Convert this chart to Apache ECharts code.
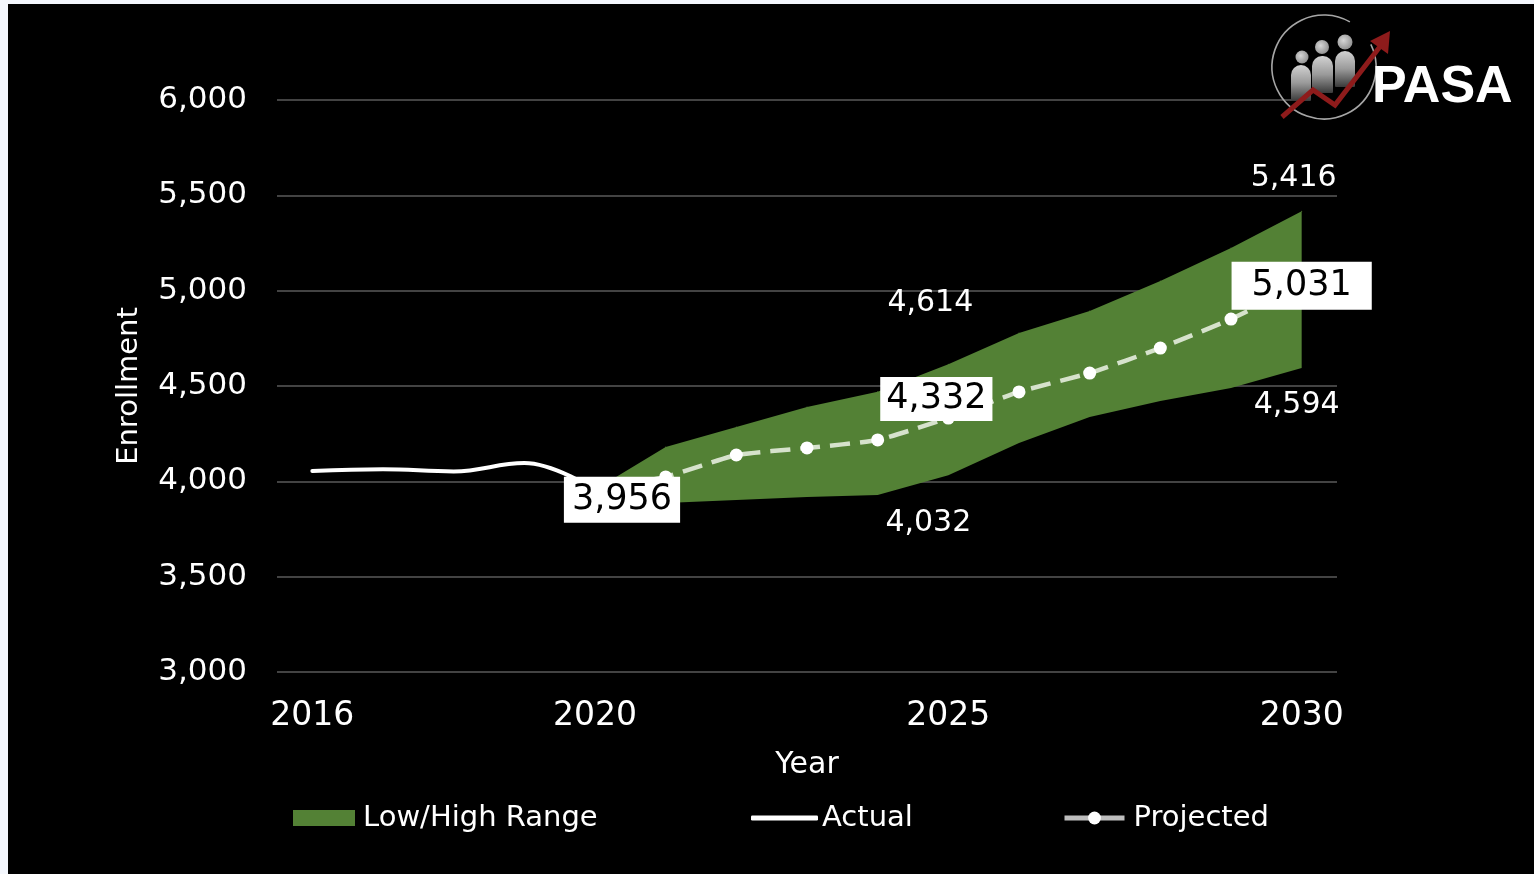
<!DOCTYPE html>
<html>
<head>
<meta charset="utf-8">
<title>Enrollment</title>
<script src="https://cdn.jsdelivr.net/npm/echarts@6/dist/echarts.min.js"></script>
<style>
  html, body { margin: 0; padding: 0; background: #f4f7fd; width: 1534px; height: 874px; overflow: hidden; }
  #chart { position: absolute; left: 8px; top: 4px; width: 1526px; height: 870px; background: #000; }
</style>
</head>
<body>
<div id="chart"></div>
<script>
// School years on the category axis
const years = ['2016','2017','2018','2019','2020','2021','2022','2023','2024','2025','2026','2027','2028','2029','2030'];
// Years that carry an axis label
const labeledYears = ['2016','2020','2025','2030'];
// Actual enrollment (2016-2020)
const actual = [4054, 4063, 4052, 4096, 3956, '-', '-', '-', '-', '-', '-', '-', '-', '-', '-'];
// Projected enrollment (2020-2030)
const projected = ['-', '-', '-', '-', 3956, 4023, 4138, 4175, 4217, 4332, 4469, 4568, 4699, 4851, 5031];
// Low and high projection bounds
const rangeLow  = ['-', '-', '-', '-', 3956, 3887, 3902, 3918, 3928, 4032, 4201, 4337, 4421, 4490, 4594];
const rangeHigh = ['-', '-', '-', '-', 3956, 4180, 4285, 4390, 4470, 4614, 4778, 4893, 5051, 5224, 5416];
// Y axis ticks
const yTicks = { min: 3000, max: 6000, step: 500 };

const FONT = 'DejaVu Sans';
const fmt = v => Number(v).toLocaleString('en-US');

// band thickness stacked over the low bound
const rangeSpan = rangeHigh.map((h, i) => (h === '-' ? '-' : h - rangeLow[i]));

// which points get value labels, and where the label sits relative to the point
const projLabels = { '2020': [27, 10, [4, 8]], '2025': [-12, -19, [3, 6]], '2030': [0, 1, [5, 20]] };
const lowLabels  = { '2025': [-20, 48], '2030': [-5, 37] };
const highLabels = { '2025': [-18, -61], '2030': [-8, -33] };

const projData = projected.map((v, i) => {
  const cfg = projLabels[years[i]];
  if (!cfg) return v;
  return {
    value: v,
    label: {
      show: true, position: 'inside', offset: [cfg[0], cfg[1]],
      formatter: p => fmt(p.value),
      color: '#000', backgroundColor: '#fff', padding: cfg[2],
      fontFamily: FONT, fontSize: 35, lineHeight: 38
    }
  };
});

const whiteLabel = (off, text) => ({
  show: true, position: 'inside', offset: off,
  formatter: () => text,
  color: '#fff', fontFamily: FONT, fontSize: 30
});

const lowData = rangeLow.map((v, i) => {
  const cfg = lowLabels[years[i]];
  return cfg ? { value: v, label: whiteLabel(cfg, fmt(v)) } : v;
});
const spanData = rangeSpan.map((v, i) => {
  const cfg = highLabels[years[i]];
  return cfg ? { value: v, label: whiteLabel(cfg, fmt(rangeHigh[i])) } : v;
});

const chart = echarts.init(document.getElementById('chart'), null, { renderer: 'canvas' });

// logo pieces (top right)
const figGrad = { type: 'linear', x: 0, y: 0, x2: 0, y2: 1,
  colorStops: [{ offset: 0, color: '#d2d2d2' }, { offset: 0.5, color: '#9a9a9a' }, { offset: 1, color: '#3a3a3a' }] };
const headGrad = { type: 'radial', x: 0.4, y: 0.4, r: 0.7,
  colorStops: [{ offset: 0, color: '#d6d6d6' }, { offset: 1, color: '#8a8a8a' }] };
const figures = [
  { hx: 1294, hy: 53, hr: 6.5, x: 1283, y: 61, w: 20, h: 36 },
  { hx: 1314, hy: 43, hr: 7, x: 1304, y: 52, w: 21, h: 37 },
  { hx: 1337, hy: 38, hr: 7.5, x: 1327, y: 47, w: 20, h: 36 }
];
const logo = [
  { type: 'rect', shape: { x: 1294, y: 93, width: 36, height: 6 }, style: { fill: '#000' }, z: 10 },
  { type: 'arc', shape: { cx: 1316, cy: 63, r: 52, startAngle: -0.45, endAngle: 2 * Math.PI - 1.05 },
    style: { stroke: '#a6a6a6', lineWidth: 1.6, fill: null }, z: 11 }
];
figures.forEach(f => {
  logo.push({ type: 'rect', shape: { x: f.x, y: f.y, width: f.w, height: f.h, r: [10, 10, 1, 1] },
    style: { fill: figGrad }, z: 12 });
  logo.push({ type: 'circle', shape: { cx: f.hx, cy: f.hy, r: f.hr }, style: { fill: headGrad }, z: 12 });
});
logo.push({ type: 'polyline', shape: { points: [[1274, 113], [1305, 86], [1327, 101], [1374, 40]] },
  style: { stroke: '#8e1b1b', lineWidth: 5, lineJoin: 'miter', fill: null }, z: 13 });
logo.push({ type: 'polygon', shape: { points: [[1382, 27], [1380, 50], [1362, 37]] },
  style: { fill: '#8e1b1b' }, z: 13 });
logo.push({ type: 'text', style: { x: 1364, y: 84, text: 'PASA', fill: '#fff',
  font: 'bold 52px "Liberation Sans", Arial, sans-serif', textVerticalAlign: 'middle' }, z: 13 });

const legendText = pad => ({ color: '#fff', fontSize: 29, fontFamily: FONT, lineHeight: 32, padding: [0, 0, 0, pad] });

chart.setOption({
  backgroundColor: '#000',
  animation: false,
  textStyle: { fontFamily: FONT },
  grid: { left: 269, right: 197, top: 96, bottom: 202, containLabel: false },
  xAxis: {
    type: 'category', data: years, boundaryGap: true,
    name: 'Year', nameLocation: 'middle', nameGap: 78,
    nameTextStyle: { color: '#fff', fontSize: 30, fontFamily: FONT },
    axisLine: { show: false }, axisTick: { show: false },
    axisLabel: {
      interval: (i, v) => labeledYears.includes(v),
      color: '#fff', fontSize: 33, fontFamily: FONT, margin: 28
    },
    splitLine: { show: false }
  },
  yAxis: {
    type: 'value', min: yTicks.min, max: yTicks.max, interval: yTicks.step,
    name: 'Enrollment', nameLocation: 'middle', nameRotate: 90, nameGap: 133,
    nameTextStyle: { color: '#fff', fontSize: 29, fontFamily: FONT },
    axisLine: { show: false }, axisTick: { show: false },
    axisLabel: { formatter: v => fmt(v), color: '#fff', fontSize: 31, fontFamily: FONT, margin: 30 },
    splitLine: { lineStyle: { color: '#5a5a5a', width: 1.5 } }
  },
  legend: [
    { data: [{ name: 'Low/High Range', icon: 'rect' }], left: 285, top: 798, itemWidth: 62, itemHeight: 16,
      selectedMode: false, padding: 0, textStyle: legendText(3) },
    { data: [{ name: 'Actual', icon: 'roundRect', itemStyle: { color: '#fff' } }], left: 743, top: 798,
      itemWidth: 67, itemHeight: 5,
      selectedMode: false, padding: 0, textStyle: legendText(-1) },
    { data: [{ name: 'Projected', lineStyle: { color: '#bdbdbd', type: 'solid', width: 5 }, itemStyle: { color: '#fff' } }],
      left: 1054, top: 798, itemWidth: 60, itemHeight: 16,
      selectedMode: false, padding: 0, textStyle: legendText(4) }
  ],
  graphic: logo,
  series: [
    {
      name: 'Low', type: 'line', stack: 'band', data: lowData,
      symbol: 'circle', symbolSize: 1, itemStyle: { color: 'rgba(0,0,0,0)' },
      lineStyle: { width: 0, opacity: 0 }, silent: true, z: 1
    },
    {
      name: 'Low/High Range', type: 'line', stack: 'band', data: spanData,
      symbol: 'circle', symbolSize: 1, itemStyle: { color: '#538135' },
      lineStyle: { width: 0, opacity: 0 }, areaStyle: { color: '#538135', opacity: 1 },
      silent: true, z: 2
    },
    {
      name: 'Actual', type: 'line', data: actual, smooth: 0.4,
      symbol: 'none', lineStyle: { color: '#fff', width: 4, cap: 'round' },
      itemStyle: { color: '#fff' }, silent: true, z: 3
    },
    {
      name: 'Projected', type: 'line', data: projData, smooth: 0.15,
      symbol: 'circle', symbolSize: 13, showAllSymbol: true,
      itemStyle: { color: '#fff' },
      lineStyle: { color: '#d6e2cc', width: 4.5, type: [20, 10] },
      silent: true, z: 4
    }
  ]
});
</script>
</body>
</html>
